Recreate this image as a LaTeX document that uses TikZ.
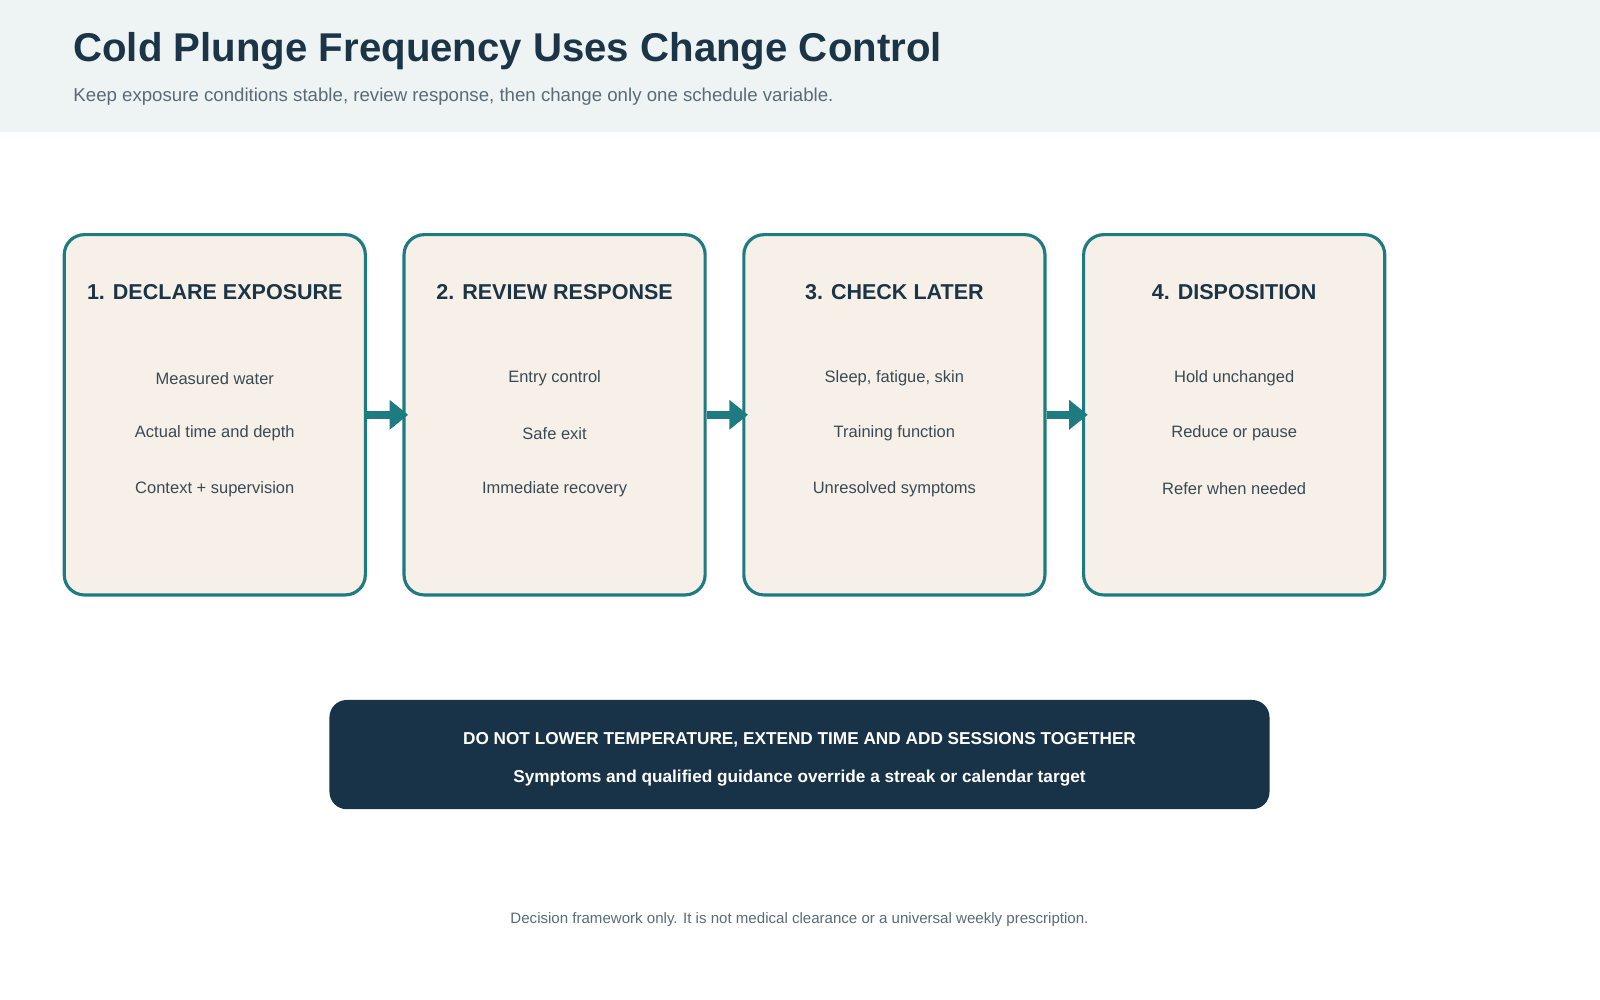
\documentclass[tikz,border=0pt]{standalone}
\usepackage{fontspec}
\setmainfont{Liberation Sans}
\usetikzlibrary{arrows.meta}
\definecolor{ink}{HTML}{1B3547}
\definecolor{teal}{HTML}{1E7B82}
\definecolor{sand}{HTML}{F6F0E8}
\definecolor{mist}{HTML}{EEF4F4}
\definecolor{slate}{HTML}{5A6B75}
\definecolor{bodytxt}{HTML}{3A4A55}
\definecolor{navy}{HTML}{183347}

\begin{document}
\begin{tikzpicture}[x=0.025cm,y=-0.025cm,
  step box/.style={draw=teal,line width=2.2pt,fill=sand,rounded corners=14pt,
    minimum width=7.375cm,minimum height=8.825cm,inner sep=0pt},
  step head/.style={font=\fontsize{15}{18}\selectfont\bfseries,text=ink},
  step item/.style={font=\fontsize{11.5}{14}\selectfont,text=bodytxt},
  flow/.style={teal,line width=5.7pt,-{Triangle[length=13pt,width=20pt]}}]

  \useasboundingbox (0,0) rectangle (1568,980);
  \fill[mist] (0,0) rectangle (1568,129);
  \node[anchor=west,font=\fontsize{28}{32}\selectfont\bfseries,text=ink] (title) at (67,50) {Cold Plunge Frequency Uses Change Control};
  \node[anchor=west,font=\fontsize{13}{16}\selectfont,text=slate] (subtitle) at (67,95) {Keep exposure conditions stable, review response, then change only one schedule variable.};

  \foreach \i/\x/\h/\a/\b/\c in {
    1/210.5/1. DECLARE EXPOSURE/Measured water/Actual time and depth/Context + supervision,
    2/543.5/2. REVIEW RESPONSE/Entry control/Safe exit/Immediate recovery,
    3/876.5/3. CHECK LATER/{Sleep, fatigue, skin}/Training function/Unresolved symptoms,
    4/1209.5/4. DISPOSITION/Hold unchanged/Reduce or pause/Refer when needed} {
    \node[step box] (box\i) at (\x,406.5) {};
    \node[step head] (head\i) at (\x,286) {\h};
    \node[step item] (itema\i) at (\x,371) {\a};
    \node[step item] (itemb\i) at (\x,425) {\b};
    \node[step item] (itemc\i) at (\x,479) {\c};
  }

  \draw[flow] (box1.east) -- ([xshift=4pt]box2.west);
  \draw[flow] (box2.east) -- ([xshift=4pt]box3.west);
  \draw[flow] (box3.east) -- ([xshift=4pt]box4.west);

  \node[fill=navy,rounded corners=12pt,minimum width=23.025cm,minimum height=2.675cm] (banner) at (783.5,739.5) {};
  \node[font=\fontsize{12}{14}\selectfont\bfseries,text=white] (warn) at (783.5,725) {DO NOT LOWER TEMPERATURE, EXTEND TIME AND ADD SESSIONS TOGETHER};
  \node[font=\fontsize{12}{14}\selectfont\bfseries,text=white] (override) at (783.5,763) {Symptoms and qualified guidance override a streak or calendar target};

  \node[font=\fontsize{10.5}{13}\selectfont,text=slate] (footer) at (783.5,901) {Decision framework only. It is not medical clearance or a universal weekly prescription.};
\end{tikzpicture}
\end{document}
